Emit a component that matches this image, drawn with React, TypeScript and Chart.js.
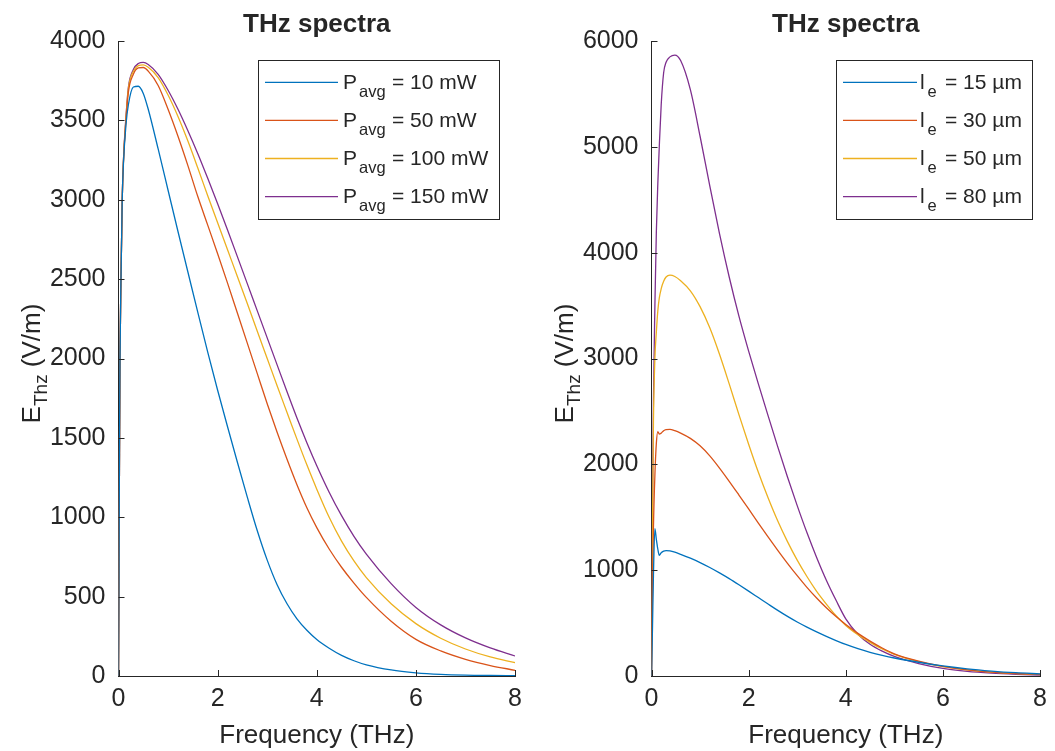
import React, { useEffect, useRef } from 'react';
import { Chart, registerables } from 'chart.js';

Chart.register(...registerables);

// ---------- data ----------
const freqL = [0, 0.01, 0.02, 0.03, 0.05, 0.075, 0.1, 0.15, 0.2, 0.3, 0.4, 0.5, 0.6, 0.8, 1.0, 1.2, 1.4, 1.6, 1.8, 2.0, 2.2, 2.4, 2.6, 2.8, 3.0, 3.2, 3.4, 3.6, 3.8, 4.0, 4.25, 4.5, 4.75, 5.0, 5.5, 6.0, 6.5, 7.0, 7.5, 8.0];
const p10 = [0, 700, 1400, 2000, 2500, 3000, 3230, 3470, 3600, 3710, 3715, 3670, 3570, 3320, 3060, 2800, 2545, 2290, 2040, 1800, 1570, 1345, 1125, 915, 730, 575, 455, 360, 288, 230, 175, 130, 96, 70, 38, 20, 10, 5, 3, 2];
const p50 = [0, 700, 1400, 2000, 2500, 3000, 3240, 3500, 3680, 3790, 3830, 3833, 3810, 3720, 3570, 3400, 3215, 3020, 2840, 2660, 2475, 2285, 2095, 1905, 1715, 1535, 1365, 1205, 1060, 935, 800, 685, 585, 495, 345, 231, 158, 105, 66, 36];
const p100 = [0, 700, 1400, 2000, 2500, 3000, 3245, 3510, 3700, 3810, 3845, 3850, 3835, 3770, 3660, 3525, 3370, 3200, 3025, 2855, 2685, 2515, 2345, 2172, 2000, 1828, 1660, 1492, 1330, 1177, 1000, 850, 725, 620, 455, 330, 238, 170, 120, 84];
const p150 = [0, 700, 1400, 2000, 2500, 3000, 3250, 3520, 3710, 3820, 3858, 3865, 3852, 3790, 3690, 3570, 3435, 3290, 3135, 2975, 2810, 2640, 2470, 2300, 2130, 1960, 1790, 1625, 1470, 1325, 1158, 1010, 880, 768, 582, 432, 322, 240, 177, 126];

const freqR = [0, 0.02, 0.04, 0.07, 0.1, 0.13, 0.16, 0.2, 0.25, 0.3, 0.38, 0.48, 0.6, 0.8, 1.0, 1.2, 1.4, 1.6, 1.8, 2.0, 2.2, 2.4, 2.6, 2.8, 3.0, 3.2, 3.4, 3.6, 3.8, 4.0, 4.25, 4.5, 4.75, 5.0, 5.5, 6.0, 6.5, 7.0, 7.5, 8.0];
const le15 = [0, 450, 950, 1393, 1290, 1200, 1141, 1165, 1180, 1185, 1182, 1170, 1150, 1113, 1072, 1025, 974, 920, 862, 802, 741, 680, 620, 563, 510, 462, 417, 375, 335, 298, 258, 224, 195, 170, 130, 96, 68, 47, 31, 20];
const le30 = [0, 800, 1400, 1900, 2200, 2310, 2285, 2295, 2318, 2328, 2330, 2318, 2295, 2245, 2175, 2080, 1965, 1840, 1710, 1578, 1445, 1315, 1188, 1065, 948, 838, 737, 645, 562, 487, 403, 330, 265, 210, 140, 90, 58, 37, 24, 15];
const le50 = [0, 1400, 2400, 3000, 3250, 3450, 3570, 3660, 3730, 3770, 3787, 3775, 3735, 3640, 3490, 3290, 3040, 2760, 2470, 2190, 1925, 1685, 1465, 1270, 1095, 940, 800, 680, 570, 478, 390, 318, 255, 205, 135, 88, 57, 36, 23, 14];
const le80 = [0, 1500, 2600, 3500, 4200, 4650, 5000, 5400, 5700, 5800, 5850, 5867, 5815, 5540, 5100, 4630, 4180, 3770, 3400, 3070, 2760, 2460, 2165, 1880, 1610, 1355, 1120, 905, 715, 540, 395, 300, 235, 185, 118, 72, 44, 27, 16, 8];

const xTicks = [0, 2, 4, 6, 8];
const yTicksL = [0, 500, 1000, 1500, 2000, 2500, 3000, 3500, 4000];
const yTicksR = [0, 1000, 2000, 3000, 4000, 5000, 6000];

const legendMainL = 'P';
const legendSubL = 'avg';
const legendRestL = ['= 10 mW', '= 50 mW', '= 100 mW', '= 150 mW'];
const legendMainR = 'l';
const legendSubR = 'e';
const legendRestR = ['= 15 µm', '= 30 µm', '= 50 µm', '= 80 µm'];

const titleText = 'THz spectra';
const xLabelText = 'Frequency (THz)';

// ---------- styles ----------
const COLORS = ['#0072BD', '#D95319', '#EDB120', '#7E2F8E'];
const TEXT = '#262626';
const FONT = "'Liberation Sans', Arial, Helvetica, sans-serif";
const TICK_SIZE = 25;
const LABEL_SIZE = 26;
const LEGEND_SIZE = 21;
const SUB_SIZE = 16.5;

type PanelCfg = {
  id: string;
  left: number;
  width: number;
  axisWidth: number;
  padRight: number;
  freq: number[];
  series: number[][];
  yMax: number;
  yTicks: number[];
  yLabelX: number;
  legendBox: [number, number, number, number];
  legendLine: [number, number];
  legendMain: string;
  legendSub: string;
  legendRest: string[];
  mainX: number;
  subX: number;
  restX: number;
};

const panels: PanelCfg[] = [
  {
    id: 'L', left: 0, width: 530, axisWidth: 118.5, padRight: 13,
    freq: freqL, series: [p10, p50, p100, p150], yMax: 4000, yTicks: yTicksL,
    yLabelX: 40,
    legendBox: [258, 60, 499, 219], legendLine: [265, 338],
    legendMain: legendMainL, legendSub: legendSubL, legendRest: legendRestL,
    mainX: 343, subX: 359, restX: 392,
  },
  {
    id: 'R', left: 530, width: 525, axisWidth: 121.5, padRight: 7,
    freq: freqR, series: [le15, le30, le50, le80], yMax: 6000, yTicks: yTicksR,
    yLabelX: 43,
    legendBox: [306, 60, 502, 219], legendLine: [313, 387],
    legendMain: legendMainR, legendSub: legendSubR, legendRest: legendRestR,
    mainX: 390, subX: 397.5, restX: 415,
  },
];

function overlay(cfg: PanelCfg) {
  return {
    id: 'overlay' + cfg.id,
    afterDraw(chart: any) {
      const ctx = chart.ctx as CanvasRenderingContext2D;
      const a = chart.chartArea;
      const xs = chart.scales.x;
      const ys = chart.scales.y;
      ctx.save();
      // inward ticks
      ctx.strokeStyle = TEXT;
      ctx.lineWidth = 1;
      ctx.beginPath();
      for (const v of xTicks) {
        const px = Math.round(xs.getPixelForValue(v)) + 0.5;
        ctx.moveTo(px, a.bottom);
        ctx.lineTo(px, a.bottom - 6);
      }
      for (const v of cfg.yTicks) {
        const py = Math.round(ys.getPixelForValue(v)) + 0.5;
        ctx.moveTo(a.left, py);
        ctx.lineTo(a.left + 6, py);
      }
      ctx.stroke();

      const cx = (a.left + a.right) / 2;
      ctx.fillStyle = TEXT;
      ctx.textAlign = 'center';
      ctx.textBaseline = 'alphabetic';
      ctx.font = `bold ${LABEL_SIZE}px ${FONT}`;
      ctx.fillText(titleText, cx, 32);
      ctx.font = `${LABEL_SIZE}px ${FONT}`;
      ctx.fillText(xLabelText, cx, 743);

      // y label with subscript
      const cy = (a.top + a.bottom) / 2 + 5;
      ctx.save();
      ctx.translate(cfg.yLabelX, cy);
      ctx.rotate(-Math.PI / 2);
      ctx.textAlign = 'left';
      const mainF = `${LABEL_SIZE}px ${FONT}`;
      const subF = `19px ${FONT}`;
      ctx.font = mainF;
      const wE = ctx.measureText('E').width;
      const wRest = ctx.measureText(' (V/m)').width;
      ctx.font = subF;
      const wSub = ctx.measureText('Thz').width;
      let x = -(wE + wSub + wRest) / 2;
      ctx.font = mainF;
      ctx.fillText('E', x, 0);
      x += wE;
      ctx.font = subF;
      ctx.fillText('Thz', x, 7);
      x += wSub;
      ctx.font = mainF;
      ctx.fillText(' (V/m)', x, 0);
      ctx.restore();

      // legend
      const [bx0, by0, bx1, by1] = cfg.legendBox;
      ctx.fillStyle = '#ffffff';
      ctx.fillRect(bx0, by0, bx1 - bx0, by1 - by0);
      ctx.strokeStyle = TEXT;
      ctx.lineWidth = 1;
      ctx.strokeRect(bx0 + 0.5, by0 + 0.5, bx1 - bx0, by1 - by0);
      const rowY = [82.3, 120.4, 158.5, 196.6];
      cfg.legendRest.forEach((rest, i) => {
        const y = rowY[i];
        ctx.strokeStyle = COLORS[i];
        ctx.lineWidth = 1.3;
        ctx.beginPath();
        ctx.moveTo(cfg.legendLine[0], y);
        ctx.lineTo(cfg.legendLine[1], y);
        ctx.stroke();
        ctx.fillStyle = TEXT;
        ctx.textAlign = 'left';
        ctx.font = `${LEGEND_SIZE}px ${FONT}`;
        ctx.fillText(cfg.legendMain, cfg.mainX, y + 6.2);
        ctx.font = `${SUB_SIZE}px ${FONT}`;
        ctx.fillText(cfg.legendSub, cfg.subX, y + 14.4);
        ctx.font = `${LEGEND_SIZE}px ${FONT}`;
        ctx.fillText(rest, cfg.restX, y + 6.2);
      });
      ctx.restore();
    },
  };
}

function Panel({ cfg }: { cfg: PanelCfg }) {
  const ref = useRef<HTMLCanvasElement | null>(null);
  useEffect(() => {
    const canvas = ref.current;
    if (!canvas) return;
    const tickFont = { family: FONT, size: TICK_SIZE };
    const chart = new Chart(canvas, {
      type: 'line',
      data: {
        datasets: cfg.series.map((vals, i) => ({
          data: cfg.freq.map((f, j) => ({ x: f, y: vals[j] })),
          borderColor: COLORS[i],
          backgroundColor: COLORS[i],
          borderWidth: 1.3,
          pointRadius: 0,
          fill: false,
          cubicInterpolationMode: 'monotone' as const,
        })),
      },
      options: {
        responsive: false,
        animation: false,
        devicePixelRatio: 1,
        layout: { padding: { left: 0, right: cfg.padRight, top: 41, bottom: 0 } },
        plugins: {
          legend: { display: false },
          title: { display: false },
          tooltip: { enabled: false },
        },
        scales: {
          x: {
            type: 'linear',
            min: 0,
            max: 8,
            afterBuildTicks: (s: any) => { s.ticks = xTicks.map((v) => ({ value: v })); },
            ticks: {
              font: tickFont, color: TEXT, padding: 8, maxRotation: 0, autoSkip: false,
              callback: (v: any) => String(v),
            },
            grid: { display: false, drawTicks: false },
            border: { display: true, color: TEXT, width: 1 },
            afterFit: (s: any) => { s.height = 75; },
          },
          y: {
            type: 'linear',
            min: 0,
            max: cfg.yMax,
            afterBuildTicks: (s: any) => { s.ticks = cfg.yTicks.map((v) => ({ value: v })); },
            ticks: {
              font: tickFont, color: TEXT, padding: 13, autoSkip: false,
              callback: (v: any) => String(v),
            },
            grid: { display: false, drawTicks: false },
            border: { display: true, color: TEXT, width: 1 },
            afterFit: (s: any) => { s.width = cfg.axisWidth; },
          },
        },
      },
      plugins: [overlay(cfg)],
    } as any);
    return () => chart.destroy();
  }, [cfg]);
  return (
    <canvas
      ref={ref}
      width={cfg.width}
      height={751}
      style={{ position: 'absolute', left: cfg.left, top: 0, width: cfg.width, height: 751 }}
    />
  );
}

export default function App() {
  return (
    <div style={{ position: 'absolute', left: 0, top: 0, width: 1055, height: 751, background: '#ffffff', overflow: 'hidden' }}>
      {panels.map((p) => (
        <Panel key={p.id} cfg={p} />
      ))}
    </div>
  );
}
